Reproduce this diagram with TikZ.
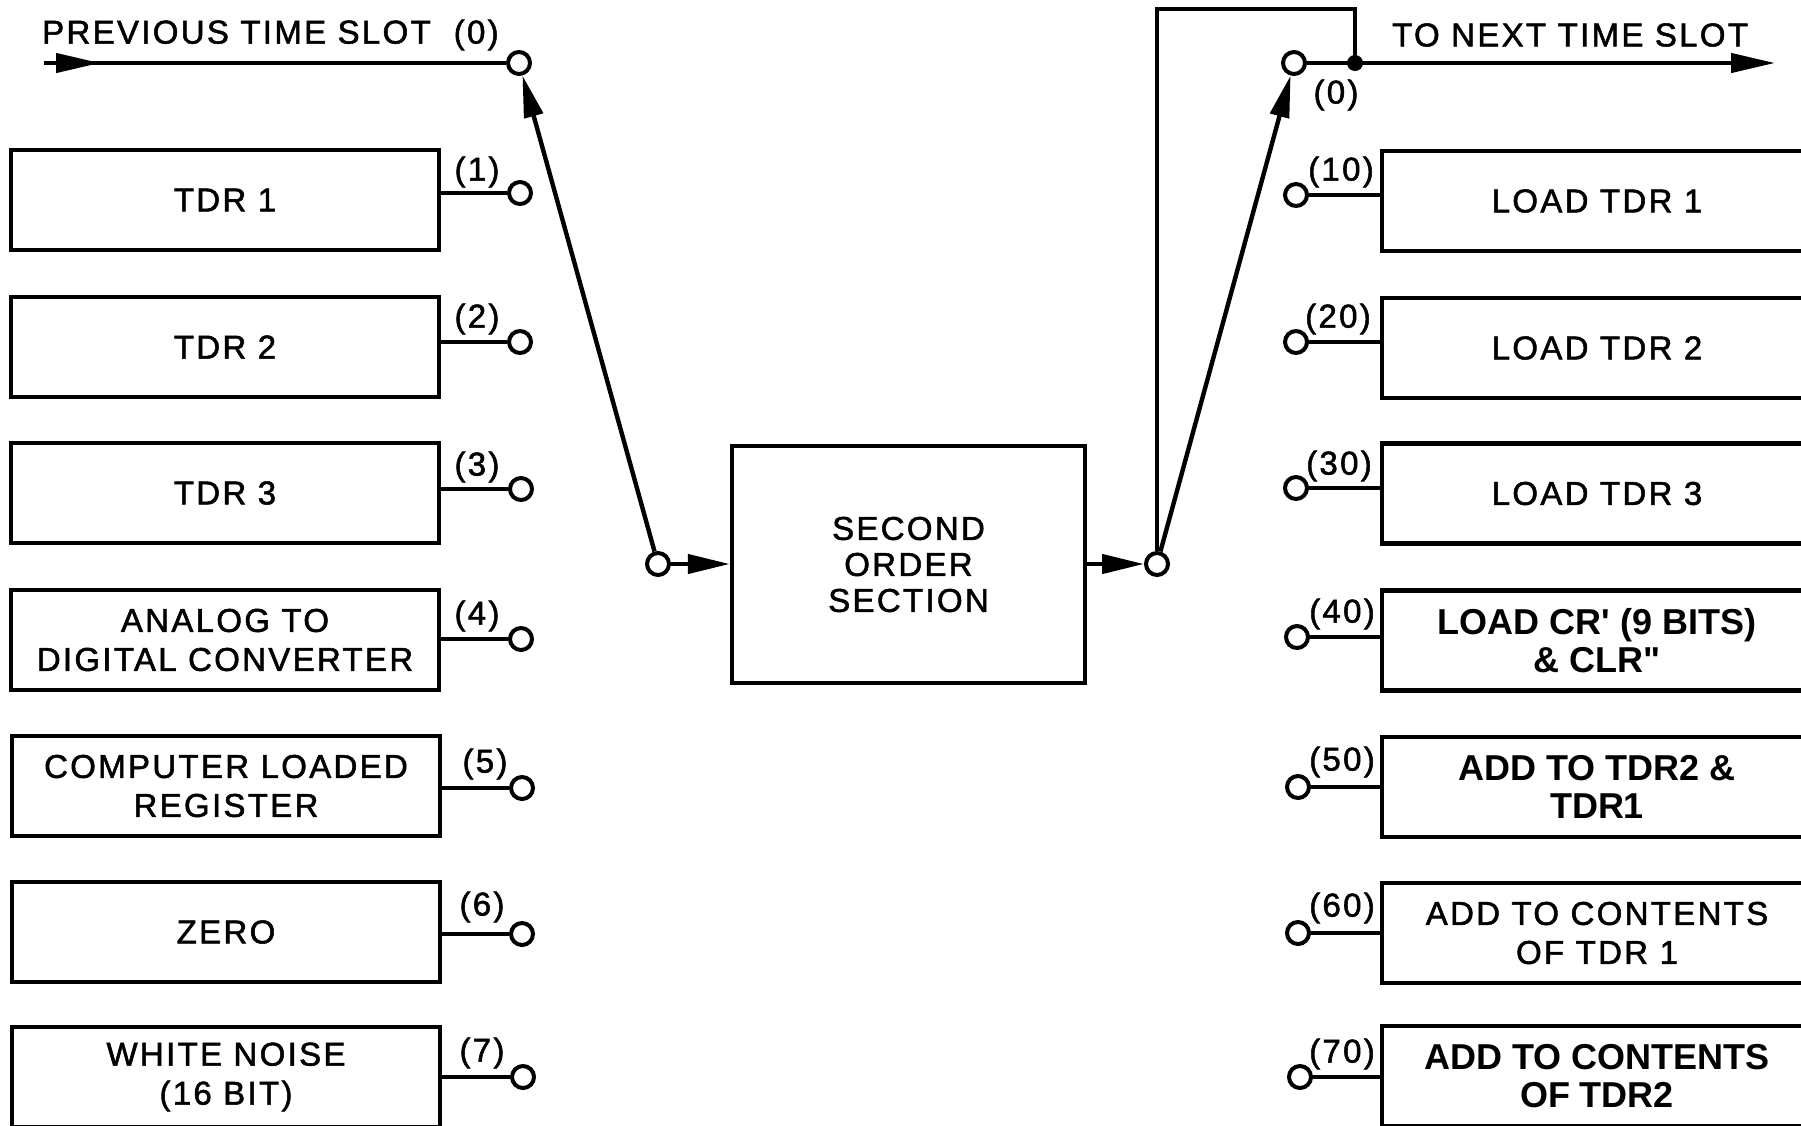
\documentclass[tikz,border=0pt]{standalone}
\usepackage{fontspec}
\setmainfont{Liberation Sans}[LetterSpace=7,FakeBold=1.6]
\newfontfamily\boldlab{Liberation Sans}[LetterSpace=0]
\usetikzlibrary{arrows.meta,decorations.markings,calc}
\begin{document}
\begin{tikzpicture}[x=1pt,y=-1pt,
  every node/.style={font=\fontsize{33}{39}\selectfont},
  lbox/.style={draw, line width=4.4pt, minimum width=428pt, minimum height=100pt, inner sep=0pt, align=center},
  rbox/.style={draw, line width=4.4pt, minimum width=430pt, minimum height=100pt, inner sep=0pt, align=center},
  bbold/.style={font=\boldlab\bfseries\fontsize{36}{38}\selectfont},
  term/.style={circle, draw, fill=white, line width=4pt, minimum size=22pt, inner sep=0pt},
  wire/.style={line width=4.4pt},
  arr/.style={-{Triangle[length=42pt,width=19pt]}},
  lab/.style={inner sep=0pt}
]
\useasboundingbox (0,0) rectangle (1801,1125);
\fill[white] (0,0) rectangle (1801,1125);

% left source boxes
\node[lbox] (b1) at (225,200) {TDR 1};
\node[lbox] (b2) at (225,347) {TDR 2};
\node[lbox] (b3) at (225,493) {TDR 3};
\node[lbox] (b4) at (225,640) {ANALOG TO\\DIGITAL CONVERTER};
\node[lbox] (b5) at (226,786) {COMPUTER LOADED\\REGISTER};
\node[lbox] (b6) at (226,932) {ZERO};
\node[lbox] (b7) at (226,1077) {WHITE NOISE\\(16 BIT)};

% left terminals
\node[term] (t1) at (520,193) {};
\node[term] (t2) at (520,342) {};
\node[term] (t3) at (521,489) {};
\node[term] (t4) at (521,639) {};
\node[term] (t5) at (522,788) {};
\node[term] (t6) at (522,934) {};
\node[term] (t7) at (523,1077) {};

\node[lab] (l1) at (477,172) {(1)};
\node[lab] (l2) at (477,319) {(2)};
\node[lab] (l3) at (477,467) {(3)};
\node[lab] (l4) at (477,616) {(4)};
\node[lab] (l5) at (485,764) {(5)};
\node[lab] (l6) at (482,907) {(6)};
\node[lab] (l7) at (482,1053) {(7)};

\foreach \i in {1,...,7} { \draw[wire] (t\i -| b\i.east) -- (t\i); }

% top left input
\coordinate (pin) at (44,63);
\node[term] (c0) at (519,63) {};
\node[anchor=west, inner sep=0pt] (ptitle) at (42,35) {PREVIOUS TIME SLOT\ \ (0)};
\draw[wire, postaction={decorate},
  decoration={markings, mark=at position 56pt with {\arrow{Triangle[length=44pt,width=19pt]}}}]
  (pin) -- (c0);

% centre
\node[term] (cin) at (658,564) {};
\node[draw, line width=4.4pt, minimum width=353pt, minimum height=237pt, align=center,
  font=\fontsize{33}{36}\selectfont] (sos) at (908.5,564.5) {SECOND\\ORDER\\SECTION};
\node[term] (cout) at (1157,564) {};

\draw[wire, arr] (cin) -- (c0);
\draw[wire, arr] (cin) -- (cin -| sos.west);
\draw[wire, arr] (sos.east |- cout) -- (cout);

% top right output
\node[term] (c0r) at (1294,63) {};
\coordinate (jn) at (1355,63);
\coordinate (topc) at (1355,9);
\coordinate (pend) at (1775,63);
\draw[wire, arr] (cout) -- (c0r);
\draw[wire] (cout) |- (topc) -- (jn);
\draw[wire, -{Triangle[length=44pt,width=19pt]}] (c0r) -- (pend);
\fill (jn) circle[radius=8];
\node[anchor=west, inner sep=0pt] (ntitle) at (1392,35) {TO NEXT TIME SLOT};
\node[lab] (l0r) at (1336,95) {(0)};

% right destination boxes
\node[rbox] (d1) at (1597,201) {LOAD TDR 1};
\node[rbox] (d2) at (1597,348) {LOAD TDR 2};
\node[rbox] (d3) at (1597,493.5) {LOAD TDR 3};
\node[rbox, bbold] (d4) at (1597,640.5) {LOAD CR\textquotesingle\ (9 BITS)\\\& CLR\textquotedbl};
\node[rbox, bbold] (d5) at (1597,787) {ADD TO TDR2 \&\\TDR1};
\node[rbox] (d6) at (1597,933) {ADD TO CONTENTS\\OF TDR 1};
\node[rbox, bbold] (d7) at (1597,1076) {ADD TO CONTENTS\\OF TDR2};

\node[term] (r1) at (1296,195) {};
\node[term] (r2) at (1296,342) {};
\node[term] (r3) at (1296,488) {};
\node[term] (r4) at (1297,637) {};
\node[term] (r5) at (1298,787) {};
\node[term] (r6) at (1298,933) {};
\node[term] (r7) at (1300,1077) {};

\node[lab] (m1) at (1341,172) {(10)};
\node[lab] (m2) at (1338,319) {(20)};
\node[lab] (m3) at (1339,466) {(30)};
\node[lab] (m4) at (1342,614) {(40)};
\node[lab] (m5) at (1342,762) {(50)};
\node[lab] (m6) at (1342,908) {(60)};
\node[lab] (m7) at (1342,1054) {(70)};

\foreach \i in {1,...,7} { \draw[wire] (r\i) -- (r\i -| d\i.west); }
\end{tikzpicture}
\end{document}
